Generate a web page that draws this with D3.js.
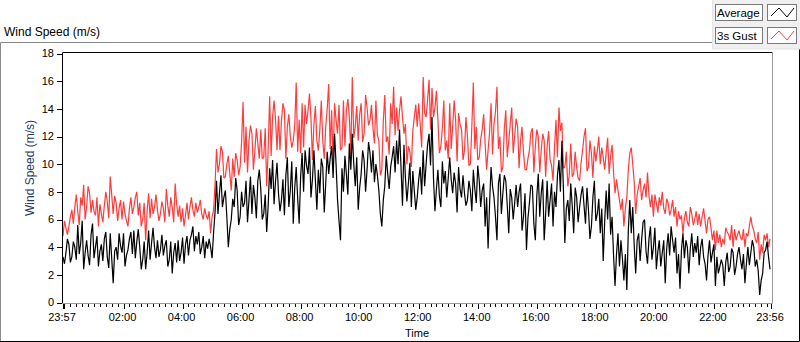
<!DOCTYPE html>
<html>
<head>
<meta charset="utf-8">
<script src="https://cdn.jsdelivr.net/npm/d3@7"></script>
<style>
  html, body { margin: 0; padding: 0; background: #fff; }
  svg { display: block; font-family: "Liberation Sans", Arial, sans-serif; }
</style>
</head>
<body>
<div id="chart"></div>
<script>
// Muestras cada 3 minutos a partir de las 23:57
const stepMinutes = 3;
const totalMinutes = 1439;

const avgSpeed = [
    3.3, 2.8, 3.6, 4.6, 4.2, 2.9, 3.3, 4.4, 4.0, 3.1, 5.6, 3.5, 4.3, 5.9, 2.4, 3.6, 4.5, 3.4, 2.7, 4.9,
    5.7, 3.2, 4.0, 4.8, 2.6, 3.7, 4.2, 3.0, 4.6, 5.1, 3.3, 2.5, 5.0, 3.2, 1.4, 3.7, 4.0, 3.1, 5.0, 4.1,
    3.6, 5.0, 2.6, 3.4, 3.8, 4.6, 5.1, 3.5, 5.2, 3.2, 4.4, 5.3, 4.0, 2.4, 3.1, 4.4, 2.4, 3.6, 5.2, 3.1,
    4.3, 5.4, 4.0, 3.2, 4.5, 3.3, 3.8, 4.9, 3.4, 4.1, 4.5, 2.6, 3.1, 4.4, 2.1, 3.6, 4.3, 2.9, 4.5, 3.0,
    3.6, 4.7, 2.8, 4.2, 4.8, 3.4, 4.5, 4.9, 5.5, 3.7, 4.8, 4.2, 5.1, 3.5, 4.0, 4.8, 3.2, 4.4, 3.9, 4.6,
    4.0, 3.2, 5.0, 6.5, 8.8, 6.4, 7.9, 9.2, 6.9, 7.6, 8.1, 6.2, 4.0, 5.3, 6.0, 7.5, 6.9, 9.0, 8.1, 5.6,
    6.2, 8.0, 6.9, 7.2, 8.8, 5.8, 7.4, 9.1, 6.4, 8.5, 7.6, 6.1, 8.8, 9.6, 8.2, 6.0, 6.4, 7.8, 5.1, 7.0,
    9.7, 8.2, 10.3, 7.1, 8.8, 10.1, 7.9, 6.6, 7.4, 8.9, 6.3, 9.2, 10.5, 6.9, 8.1, 10.2, 5.7, 8.3, 9.8, 7.5,
    5.7, 9.1, 10.8, 8.0, 11.0, 9.9, 9.3, 11.2, 7.6, 8.9, 11.0, 8.8, 6.7, 9.6, 7.9, 10.4, 9.8, 6.5, 8.6, 10.9,
    9.3, 10.4, 11.3, 9.0, 12.2, 10.0, 7.4, 5.9, 4.5, 9.7, 8.0, 10.6, 9.3, 7.8, 11.5, 9.6, 12.2, 10.0, 8.4, 10.5,
    6.7, 8.3, 9.3, 11.0, 10.3, 8.0, 9.6, 11.6, 10.8, 9.4, 11.0, 8.7, 10.0, 9.2, 8.1, 6.4, 5.5, 7.4, 8.4, 10.6,
    9.3, 8.2, 9.8, 10.5, 11.3, 9.4, 11.7, 10.0, 12.5, 9.8, 7.0, 11.4, 9.0, 7.3, 8.6, 10.1, 6.9, 9.5, 8.1, 6.7,
    7.6, 8.9, 9.8, 7.8, 11.0, 8.4, 10.0, 11.4, 12.2, 9.9, 13.4, 9.0, 6.6, 8.2, 9.6, 7.7, 6.9, 10.2, 8.6, 9.5,
    7.6, 9.0, 10.5, 8.9, 7.9, 9.4, 8.6, 6.5, 9.8, 8.2, 7.6, 9.2, 7.9, 7.0, 7.4, 8.8, 8.1, 6.6, 9.6, 8.2,
    7.2, 9.9, 8.8, 6.9, 8.1, 8.6, 5.5, 7.6, 3.9, 7.1, 9.8, 8.4, 7.6, 6.2, 4.5, 8.6, 9.3, 6.4, 7.9, 9.2,
    8.8, 7.0, 5.0, 8.2, 7.6, 6.0, 7.2, 8.5, 6.9, 8.0, 8.6, 5.2, 6.2, 7.9, 3.8, 6.1, 7.2, 8.5, 8.4, 5.7,
    4.5, 7.7, 9.3, 6.2, 7.9, 8.9, 4.5, 6.4, 8.8, 6.2, 7.4, 8.6, 5.5, 8.0, 6.9, 9.2, 10.3, 8.0, 11.7, 8.3,
    4.3, 6.8, 7.4, 5.9, 8.6, 7.0, 5.0, 8.3, 7.6, 5.8, 6.9, 7.8, 8.4, 7.0, 5.7, 8.3, 6.7, 4.6, 5.5, 7.6,
    8.8, 5.9, 6.4, 7.5, 5.0, 6.8, 3.0, 5.9, 8.1, 6.0, 8.6, 4.9, 6.2, 3.4, 1.2, 3.5, 5.0, 2.6, 4.5, 3.2,
    1.6, 3.5, 0.9, 5.2, 7.4, 5.0, 6.9, 4.1, 2.1, 4.5, 5.0, 3.0, 4.5, 5.8, 6.0, 3.7, 2.8, 4.6, 5.5, 3.1,
    4.0, 5.4, 2.4, 3.7, 4.5, 2.6, 3.6, 4.5, 1.4, 3.9, 5.0, 3.4, 5.5, 4.5, 3.6, 4.7, 2.1, 3.5, 1.0, 3.8,
    5.0, 3.2, 4.5, 4.0, 2.1, 3.9, 5.0, 3.3, 4.3, 3.6, 4.8, 2.7, 4.0, 4.6, 3.3, 2.8, 1.6, 3.4, 4.5, 2.9,
    3.6, 4.2, 1.2, 3.3, 2.1, 2.6, 3.1, 2.7, 1.2, 2.9, 3.6, 2.2, 2.6, 3.9, 3.6, 2.0, 2.6, 3.5, 4.0, 3.1,
    2.4, 3.5, 1.4, 2.8, 4.0, 2.7, 3.6, 4.5, 4.0, 2.6, 3.1, 2.3, 0.55, 1.6, 2.1, 3.6, 3.8, 4.4, 3.3, 2.4
];

const gustSpeed = [
    4.8, 5.9, 5.4, 4.9, 5.5, 6.2, 6.7, 5.7, 6.9, 7.8, 6.6, 5.6, 7.6, 7.0, 8.5, 6.0, 6.9, 8.4, 7.9, 6.5,
    7.4, 6.6, 6.3, 7.6, 5.5, 7.1, 6.4, 5.8, 7.0, 8.0, 7.3, 6.1, 9.1, 7.8, 6.4, 7.7, 7.2, 5.9, 6.8, 7.4,
    6.0, 7.3, 6.4, 5.9, 5.5, 6.8, 7.6, 6.4, 6.9, 7.6, 8.0, 6.3, 7.2, 5.5, 6.0, 7.2, 4.5, 6.6, 7.9, 6.1,
    7.5, 6.4, 6.9, 7.8, 6.7, 5.9, 6.4, 7.3, 6.8, 5.8, 8.2, 7.0, 6.2, 7.6, 6.9, 5.8, 8.6, 7.1, 6.2, 7.0,
    5.8, 6.8, 5.5, 6.3, 7.2, 6.0, 6.9, 7.6, 6.7, 6.2, 7.2, 6.5, 6.9, 7.4, 6.4, 6.0, 6.8, 6.3, 6.0, 6.6,
    5.0, 6.2, 6.7, 8.5, 11.1, 9.4, 10.0, 11.3, 10.9, 9.0, 9.1, 10.0, 10.6, 9.3, 8.1, 10.4, 9.1, 10.8, 10.3, 9.2,
    9.8, 11.6, 14.5, 10.1, 12.7, 9.4, 11.7, 12.8, 12.2, 9.6, 11.0, 12.6, 11.5, 10.4, 12.5, 10.4, 10.5, 12.6, 8.4, 11.0,
    14.9, 10.6, 13.4, 14.6, 13.2, 11.0, 13.5, 11.0, 13.1, 14.4, 13.9, 10.4, 12.7, 13.6, 12.0, 11.2, 11.7, 12.8, 15.9, 10.9,
    13.2, 10.8, 14.4, 11.2, 14.3, 12.9, 13.9, 15.1, 13.3, 10.3, 12.9, 14.2, 11.7, 11.0, 12.5, 14.6, 11.7, 10.4, 12.7, 14.0,
    15.8, 11.1, 13.9, 10.2, 14.4, 13.2, 12.2, 14.3, 11.0, 11.2, 14.6, 11.3, 13.9, 14.7, 13.4, 10.7, 16.3, 11.9, 12.7, 14.2,
    11.7, 13.6, 14.4, 11.6, 12.2, 15.0, 14.1, 12.8, 13.2, 14.3, 12.6, 11.5, 14.6, 12.1, 11.7, 9.2, 9.6, 13.1, 15.0, 11.6,
    12.0, 10.7, 14.4, 12.9, 15.6, 12.1, 14.1, 12.4, 13.9, 14.9, 13.4, 12.2, 12.9, 10.0, 11.3, 10.9, 9.8, 12.4, 13.4, 14.3,
    12.7, 14.4, 12.9, 11.2, 16.3, 13.7, 13.4, 14.6, 16.1, 12.5, 15.5, 13.4, 14.1, 15.3, 13.2, 10.8, 11.3, 12.6, 14.6, 11.0,
    11.7, 10.4, 14.4, 11.1, 12.7, 14.6, 13.2, 10.2, 13.7, 12.9, 12.5, 10.3, 11.0, 13.4, 12.0, 9.9, 10.0, 12.8, 15.9, 11.1,
    12.7, 10.3, 10.5, 11.8, 12.5, 13.6, 11.5, 9.6, 11.0, 12.3, 14.4, 10.7, 12.9, 13.8, 15.6, 11.1, 12.0, 9.4, 9.8, 12.6,
    13.9, 10.5, 11.7, 12.9, 14.1, 10.8, 12.0, 13.3, 12.7, 9.7, 11.7, 12.7, 10.8, 9.6, 9.6, 10.4, 11.0, 12.3, 12.6, 9.4,
    11.3, 12.5, 12.0, 9.4, 11.0, 12.2, 11.7, 9.1, 11.3, 12.4, 10.3, 9.9, 8.8, 11.2, 13.2, 10.5, 14.1, 12.4, 13.0, 9.7,
    9.8, 10.9, 8.4, 9.2, 11.5, 9.1, 9.3, 10.9, 9.8, 9.0, 8.8, 10.1, 11.0, 12.0, 12.6, 9.5, 9.8, 11.7, 10.8, 9.0,
    11.3, 10.2, 11.0, 12.0, 10.0, 11.2, 10.5, 9.6, 10.8, 11.9, 9.3, 10.6, 11.4, 9.4, 7.9, 8.9, 8.1, 7.4, 6.7, 7.5,
    5.5, 6.8, 7.6, 9.6, 10.8, 11.2, 10.0, 8.7, 6.4, 7.8, 8.4, 9.0, 7.4, 8.1, 8.6, 7.6, 9.4, 7.7, 6.9, 7.8,
    6.2, 7.8, 7.2, 6.5, 7.6, 7.0, 8.0, 6.8, 6.4, 7.5, 7.2, 6.3, 6.7, 7.4, 6.2, 6.9, 5.5, 6.6, 6.0, 6.3,
    5.0, 6.1, 6.6, 5.8, 5.5, 6.9, 6.4, 5.6, 6.0, 6.6, 5.6, 6.4, 5.5, 6.2, 6.8, 5.9, 5.0, 6.0, 6.2, 5.4,
    4.5, 5.2, 3.8, 5.2, 4.3, 4.9, 4.0, 4.6, 4.2, 5.4, 5.1, 4.9, 4.5, 5.6, 4.0, 5.3, 4.5, 4.9, 5.2, 4.7,
    4.5, 5.3, 4.0, 5.0, 4.8, 5.5, 6.2, 5.5, 5.2, 4.6, 4.3, 5.1, 3.1, 4.2, 3.6, 4.9, 4.5, 5.0, 4.0, 4.6
];

const yTicks = [0, 2, 4, 6, 8, 10, 12, 14, 16, 18];
// minutos desde 23:57 para cada etiqueta del eje de tiempo
const xTickMinutes = [0, 123, 243, 363, 483, 603, 723, 843, 963, 1083, 1203, 1323, 1439];
const xTickLabels = ['23:57', '02:00', '04:00', '06:00', '08:00', '10:00', '12:00',
                     '14:00', '16:00', '18:00', '20:00', '22:00', '23:56'];
const seriesNames = ['Average', '3s Gust'];
const seriesColors = ['#000000', '#ff3c3c'];

document.addEventListener('DOMContentLoaded', () => {
    const width = 800;
    const height = 342;
    const plot = { left: 62, right: 772, top: 52, bottom: 303 };

    const svg = d3.select('#chart').append('svg')
        .attr('width', width)
        .attr('height', height);

    const x = d3.scaleLinear().domain([0, totalMinutes]).range([63, 771]);
    const y = d3.scaleLinear().domain([0, 18]).range([302.5, 53.5]);

    // Marco exterior del gráfico
    svg.append('path')
        .attr('d', `M0.5,341 V42.5 H712`)
        .attr('fill', 'none').attr('stroke', '#8a8a8a');
    svg.append('path')
        .attr('d', `M0,341.5 H799.5 V11`)
        .attr('fill', 'none').attr('stroke', '#000');

    // Título
    svg.append('text')
        .attr('x', 4).attr('y', 36)
        .attr('font-size', 12)
        .attr('fill', '#000')
        .text('Wind Speed (m/s)');

    // Leyenda
    const legend = svg.append('g');
    legend.append('rect')
        .attr('x', 712.5).attr('y', -1).attr('width', 90).attr('height', 50)
        .attr('fill', '#f0f0f0').attr('stroke', '#e3e3e3');
    seriesNames.forEach((name, i) => {
        const top = 4 + i * 23;
        legend.append('rect')
            .attr('x', 715.5).attr('y', top + 0.5).attr('width', 47).attr('height', 16)
            .attr('fill', '#fff').attr('stroke', '#7a7a7a');
        legend.append('text')
            .attr('x', 717).attr('y', top + 12.5)
            .attr('font-size', 11.5).attr('fill', '#000')
            .text(name);
        legend.append('rect')
            .attr('x', 767.5).attr('y', top + 0.5).attr('width', 29).attr('height', 16)
            .attr('fill', '#fff').attr('stroke', '#7a7a7a');
        legend.append('path')
            .attr('d', `M771,${top + 12} L779,${top + 4} L787,${top + 13} L794,${top + 4}`)
            .attr('fill', 'none').attr('stroke', seriesColors[i]).attr('stroke-width', 1);
    });

    // Área de trazado
    svg.append('rect')
        .attr('x', plot.left).attr('y', plot.top)
        .attr('width', plot.right - plot.left).attr('height', plot.bottom - plot.top)
        .attr('fill', '#fff');

    // Eje Y
    const yAxis = svg.append('g').attr('font-size', 11);
    yAxis.selectAll('line').data(yTicks).enter().append('line')
        .attr('x1', 57).attr('x2', plot.left)
        .attr('y1', d => Math.round(y(d)) + 0.5).attr('y2', d => Math.round(y(d)) + 0.5)
        .attr('stroke', '#000');
    yAxis.selectAll('text').data(yTicks).enter().append('text')
        .attr('x', 54).attr('y', d => y(d))
        .attr('dy', '0.36em')
        .attr('text-anchor', 'end')
        .attr('fill', '#000')
        .text(d => d);

    svg.append('text')
        .attr('transform', 'translate(34,168) rotate(-90)')
        .attr('text-anchor', 'middle')
        .attr('font-size', 12)
        .attr('fill', '#1f3a63')
        .text('Wind Speed (m/s)');

    // Eje X: marcas menores cada 12 min desde las 00:00, mayores cada 2 h
    const minorTicks = d3.range(3, totalMinutes, 12);
    const majorTicks = [3].concat(xTickMinutes);
    const xAxis = svg.append('g').attr('font-size', 11);
    xAxis.selectAll('line.minor').data(minorTicks).enter().append('line')
        .attr('class', 'minor')
        .attr('x1', d => Math.round(x(d)) + 0.5).attr('x2', d => Math.round(x(d)) + 0.5)
        .attr('y1', plot.bottom + 1).attr('y2', plot.bottom + 4)
        .attr('stroke', '#000');
    xAxis.selectAll('line.major').data(majorTicks).enter().append('line')
        .attr('class', 'major')
        .attr('x1', d => Math.round(x(d)) + 0.5).attr('x2', d => Math.round(x(d)) + 0.5)
        .attr('y1', plot.bottom + 1).attr('y2', plot.bottom + 6)
        .attr('stroke', '#000');
    xAxis.selectAll('text').data(xTickMinutes).enter().append('text')
        .attr('x', d => x(d) - 1).attr('y', 321)
        .attr('text-anchor', 'middle')
        .attr('fill', '#000')
        .text((d, i) => xTickLabels[i]);

    svg.append('text')
        .attr('x', (plot.left + plot.right) / 2).attr('y', 337)
        .attr('text-anchor', 'middle')
        .attr('font-size', 11)
        .attr('fill', '#000')
        .text('Time');

    // Series: ráfaga detrás, promedio encima
    const line = d3.line()
        .x((d, i) => x(i * stepMinutes))
        .y(d => y(d));

    const plotArea = svg.append('g');
    [gustSpeed, avgSpeed].forEach((series, i) => {
        plotArea.append('path')
            .datum(series)
            .attr('d', line)
            .attr('fill', 'none')
            .attr('stroke', seriesColors[1 - i])
            .attr('stroke-width', 1.2)
            .attr('stroke-linejoin', 'miter')
            .attr('stroke-miterlimit', 2);
    });

    // Borde del área de trazado
    svg.append('path')
        .attr('d', `M${plot.left + 0.5},${plot.bottom} V${plot.top + 0.5} H${plot.right}`)
        .attr('fill', 'none').attr('stroke', '#000');
    svg.append('path')
        .attr('d', `M${plot.left},${plot.bottom + 0.5} H${plot.right + 0.5} V${plot.top}`)
        .attr('fill', 'none').attr('stroke', '#9a9a9a');
});
</script>
</body>
</html>
